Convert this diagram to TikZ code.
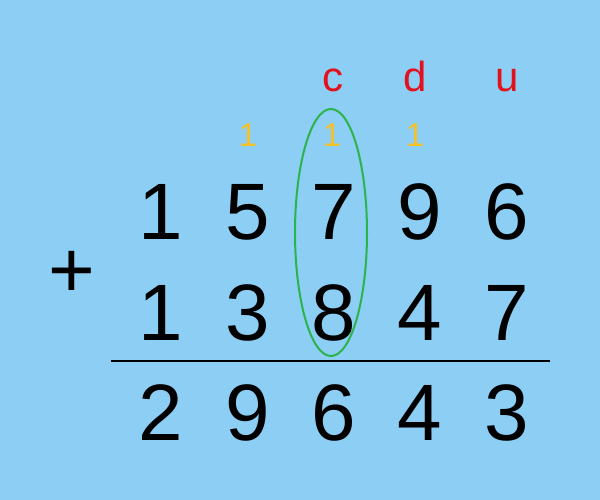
\documentclass[tikz,border=0pt]{standalone}
\usepackage{fontspec}
\setmainfont{Liberation Sans}
\usetikzlibrary{positioning}
\definecolor{skyback}{HTML}{8DCEF4}
\definecolor{placered}{HTML}{E2111B}
\definecolor{carrygold}{HTML}{F5C22A}
\definecolor{ringgreen}{HTML}{2DB34C}
\tikzstyle{digit}=[%
      anchor=base, inner sep=0pt, minimum width=86pt, text=black,
      font=\fontsize{80}{96}\selectfont
]
\tikzstyle{place}=[%
      anchor=base, inner sep=0pt, text=placered,
      font=\fontsize{42}{50}\selectfont
]
\tikzstyle{carry}=[%
      anchor=base, inner sep=0pt, text=carrygold,
      font=\fontsize{33}{40}\selectfont
]
\tikzstyle{ring}=[%
      draw=ringgreen, line width=2pt
]

\begin{document}
\begin{tikzpicture}[x=1pt, y=-1pt]
    \fill[skyback] (0,0) rectangle (600,500);
    \useasboundingbox (0,0) rectangle (600,500);

    % place letters
    \node[place] (c) at (333,92) {c};
    \node[place] (d) at (415,92) {d};
    \node[place] (u) at (507,92) {u};

    % carries
    \node[carry] (k1) at (248,147) {1};
    \node[carry] (k2) at (332,147) {1};
    \node[carry] (k3) at (415,147) {1};

    % first addend
    \node[digit] (a1) at (161,240)           {1};
    \node[digit] (a2) [base right=0pt of a1] {5};
    \node[digit] (a3) [base right=0pt of a2] {7};
    \node[digit] (a4) [base right=0pt of a3] {9};
    \node[digit] (a5) [base right=0pt of a4] {6};

    % second addend
    \node[digit] (b1) at (161,340)           {1};
    \node[digit] (b2) [base right=0pt of b1] {3};
    \node[digit] (b3) [base right=0pt of b2] {8};
    \node[digit] (b4) [base right=0pt of b3] {4};
    \node[digit] (b5) [base right=0pt of b4] {7};

    % sum
    \node[digit] (s1) at (161,440)           {2};
    \node[digit] (s2) [base right=0pt of s1] {9};
    \node[digit] (s3) [base right=0pt of s2] {6};
    \node[digit] (s4) [base right=0pt of s3] {4};
    \node[digit] (s5) [base right=0pt of s4] {3};

    \node[digit, minimum width=0pt] (plus) at (72,297) {+};

    \draw[line width=1.5pt] (111,361) -- (550,361);
    \draw[ring] (331,232.5) ellipse [x radius=36pt, y radius=123.5pt];

  \end{tikzpicture}
\end{document}
